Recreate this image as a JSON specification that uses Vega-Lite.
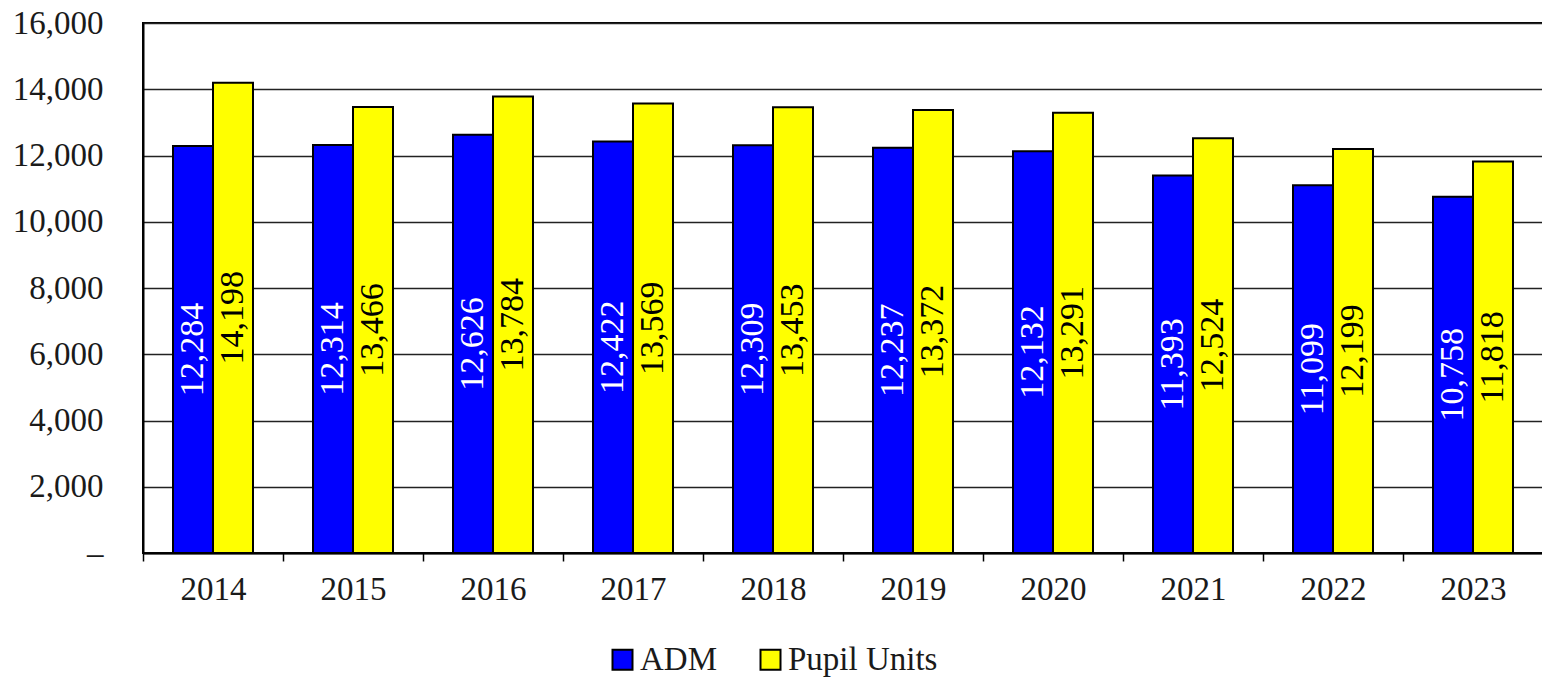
{
  "$schema": "https://vega.github.io/schema/vega-lite/v6.json",
  "width": 1400,
  "height": 530,
  "autosize": "none",
  "padding": {"left": 143, "top": 23, "right": 0, "bottom": 128},
  "background": "white",
  "config": {
    "font": "Liberation Serif",
    "view": {"stroke": "black", "strokeWidth": 2},
    "axis": {"labelFont": "Liberation Serif", "labelFontSize": 33, "labelColor": "#1a1a1a"},
    "legend": {"labelFont": "Liberation Serif", "labelFontSize": 33, "labelColor": "#1a1a1a"}
  },
  "data": {
    "values": [
      {"year": "2014", "series": "ADM", "value": 12284},
      {"year": "2014", "series": "Pupil Units", "value": 14198},
      {"year": "2015", "series": "ADM", "value": 12314},
      {"year": "2015", "series": "Pupil Units", "value": 13466},
      {"year": "2016", "series": "ADM", "value": 12626},
      {"year": "2016", "series": "Pupil Units", "value": 13784},
      {"year": "2017", "series": "ADM", "value": 12422},
      {"year": "2017", "series": "Pupil Units", "value": 13569},
      {"year": "2018", "series": "ADM", "value": 12309},
      {"year": "2018", "series": "Pupil Units", "value": 13453},
      {"year": "2019", "series": "ADM", "value": 12237},
      {"year": "2019", "series": "Pupil Units", "value": 13372},
      {"year": "2020", "series": "ADM", "value": 12132},
      {"year": "2020", "series": "Pupil Units", "value": 13291},
      {"year": "2021", "series": "ADM", "value": 11393},
      {"year": "2021", "series": "Pupil Units", "value": 12524},
      {"year": "2022", "series": "ADM", "value": 11099},
      {"year": "2022", "series": "Pupil Units", "value": 12199},
      {"year": "2023", "series": "ADM", "value": 10758},
      {"year": "2023", "series": "Pupil Units", "value": 11818}
    ]
  },
  "encoding": {
    "x": {
      "field": "year",
      "type": "nominal",
      "title": null,
      "scale": {"paddingInner": 0, "paddingOuter": 0},
      "axis": {
        "labelAngle": 0,
        "domainColor": "black",
        "domainWidth": 2,
        "tickColor": "black",
        "tickWidth": 1.5,
        "tickSize": 8,
        "tickBand": "extent",
        "labelPadding": 12,
        "grid": false
      }
    },
    "xOffset": {
      "field": "series",
      "type": "nominal",
      "scale": {"domain": ["ADM", "Pupil Units"], "paddingInner": 0, "paddingOuter": 0.75}
    }
  },
  "layer": [
    {
      "mark": {"type": "bar", "stroke": "black", "strokeWidth": 2},
      "encoding": {
        "y": {
          "field": "value",
          "type": "quantitative",
          "title": null,
          "scale": {"domain": [0, 16000], "nice": false},
          "axis": {
            "values": [0, 2000, 4000, 6000, 8000, 10000, 12000, 14000, 16000],
            "labelExpr": "datum.value == 0 ? '–' : format(datum.value, ',')",
            "ticks": false,
            "labelPadding": 40,
            "domainColor": "black",
            "domainWidth": 2,
            "gridColor": "#222",
            "gridWidth": 1.5,
            "gridOpacity": 1
          }
        },
        "color": {
          "field": "series",
          "type": "nominal",
          "title": null,
          "scale": {"domain": ["ADM", "Pupil Units"], "range": ["#0000FF", "#FFFF00"]},
          "legend": {
            "orient": "none",
            "direction": "horizontal",
            "legendX": 463,
            "legendY": 620,
            "symbolType": "square",
            "symbolSize": 400,
            "symbolStrokeColor": "black",
            "symbolStrokeWidth": 2,
            "symbolOpacity": 1,
            "labelOffset": 1,
            "columnPadding": 36
          }
        }
      }
    },
    {
      "mark": {"type": "text", "angle": 270, "align": "center", "baseline": "middle", "fontSize": 34, "font": "Liberation Serif"},
      "encoding": {
        "y": {
          "field": "value",
          "type": "quantitative",
          "scale": {"domain": [0, 32000], "nice": false},
          "axis": null
        },
        "text": {"field": "value", "type": "quantitative", "format": ","},
        "color": {
          "condition": {"test": "datum.series == 'ADM'", "value": "white"},
          "value": "black"
        }
      }
    }
  ],
  "resolve": {"scale": {"y": "independent"}}
}
